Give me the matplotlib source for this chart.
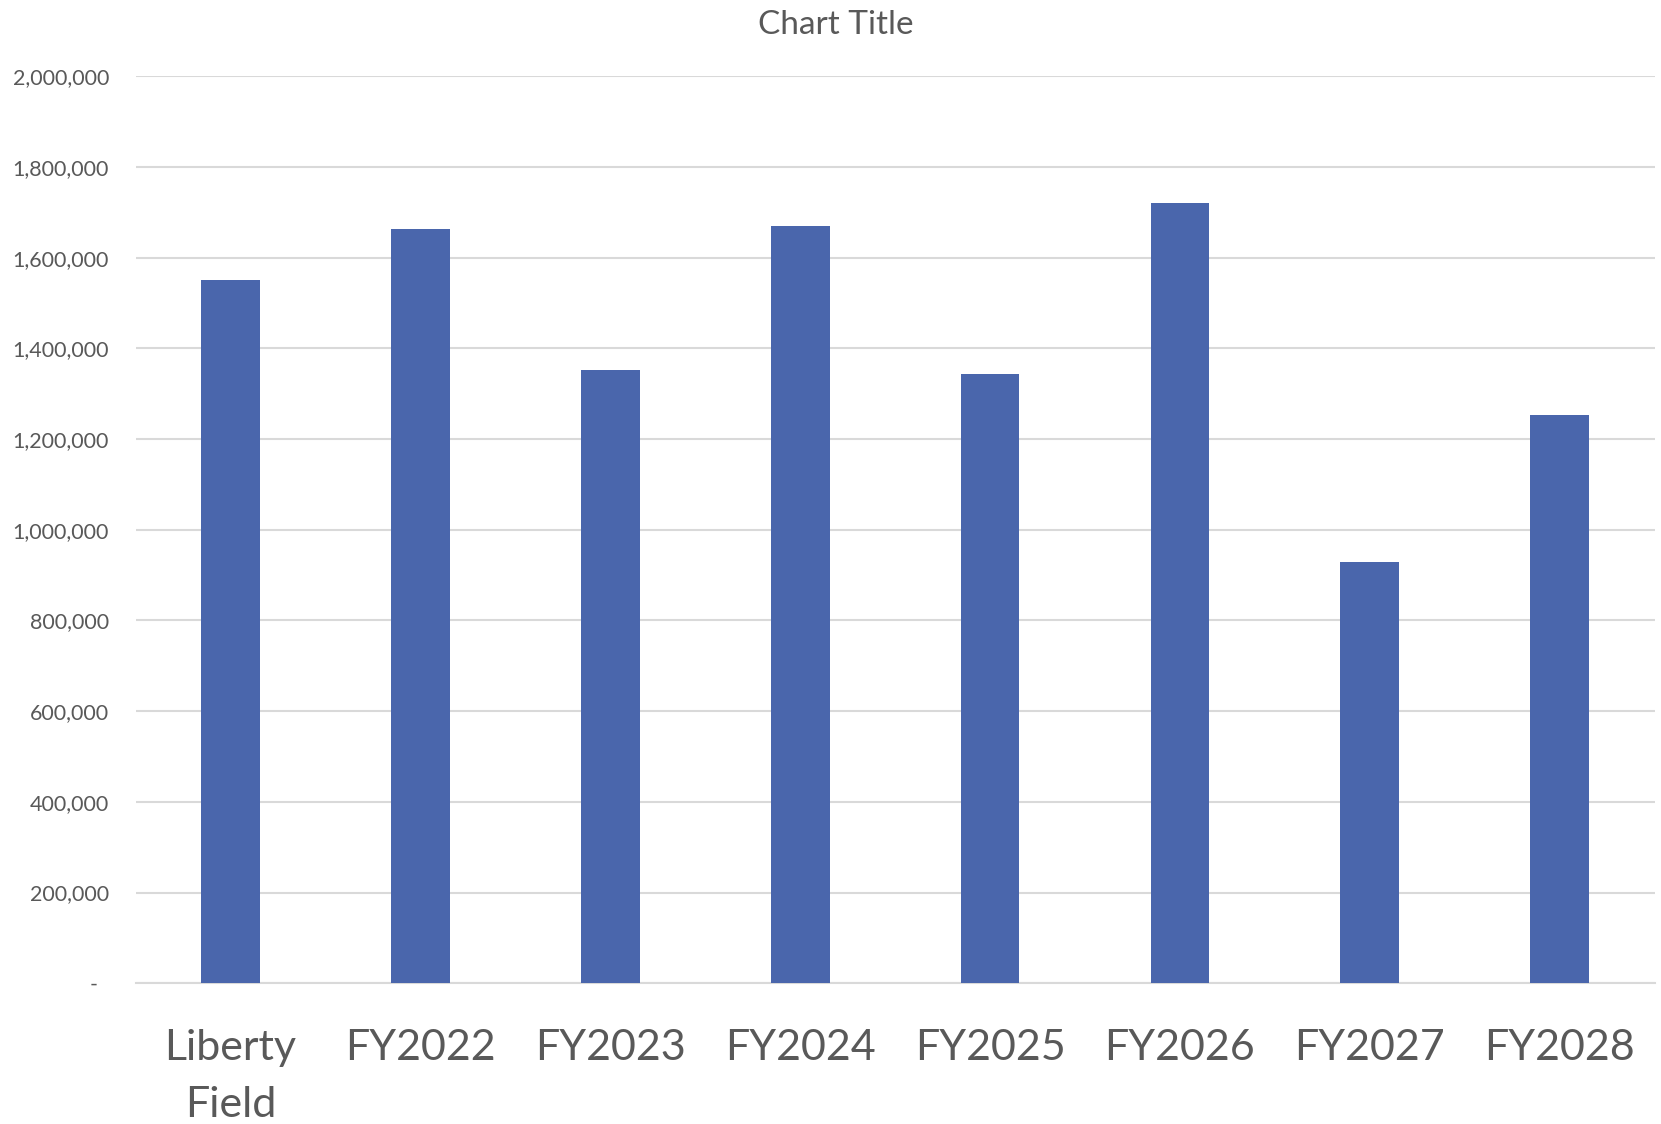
import matplotlib
matplotlib.use("Agg")
import matplotlib.pyplot as plt
from matplotlib.ticker import FuncFormatter

categories = ["Liberty\nField", "FY2022", "FY2023", "FY2024", "FY2025", "FY2026", "FY2027", "FY2028"]
values = [1550000, 1663000, 1352000, 1669000, 1344000, 1720000, 929000, 1253000]
y_ticks = [0, 200000, 400000, 600000, 800000, 1000000, 1200000, 1400000, 1600000, 1800000, 2000000]

plt.rcParams["font.family"] = ["Lato", "DejaVu Sans"]
text_color = "#595959"
grid_color = "#D9D9D9"
bar_color = "#4A66AC"

fig = plt.figure(figsize=(16.61, 11.24), dpi=100)
ax = fig.add_axes([0.0816, 0.1252, 0.9146, 0.8069])

x = range(len(categories))
ax.bar(x, values, width=0.31, color=bar_color, zorder=3)

ax.set_xlim(-0.5, len(categories) - 0.5)
ax.set_ylim(0, 2000000)
ax.set_yticks(y_ticks)


def fmt(v, pos):
    if v == 0:
        return "-  "
    return f"{int(v):,}"


ax.yaxis.set_major_formatter(FuncFormatter(fmt))
ax.set_xticks(list(x))
ax.set_xticklabels(categories, linespacing=1.6)

ax.grid(axis="y", color=grid_color, linewidth=1.5, zorder=0)
for side in ("top", "right", "left"):
    ax.spines[side].set_visible(False)
ax.spines["bottom"].set_color(grid_color)
ax.spines["bottom"].set_linewidth(1.5)

ax.tick_params(axis="y", length=0, pad=19, labelsize=15.5, labelcolor=text_color)
ax.tick_params(axis="x", length=0, pad=33, labelsize=31, labelcolor=text_color)

fig.text(0.503, 0.978, "Chart Title", ha="center", va="center", fontsize=24, color=text_color)

fig.savefig("out.png", dpi=100, facecolor="white")
